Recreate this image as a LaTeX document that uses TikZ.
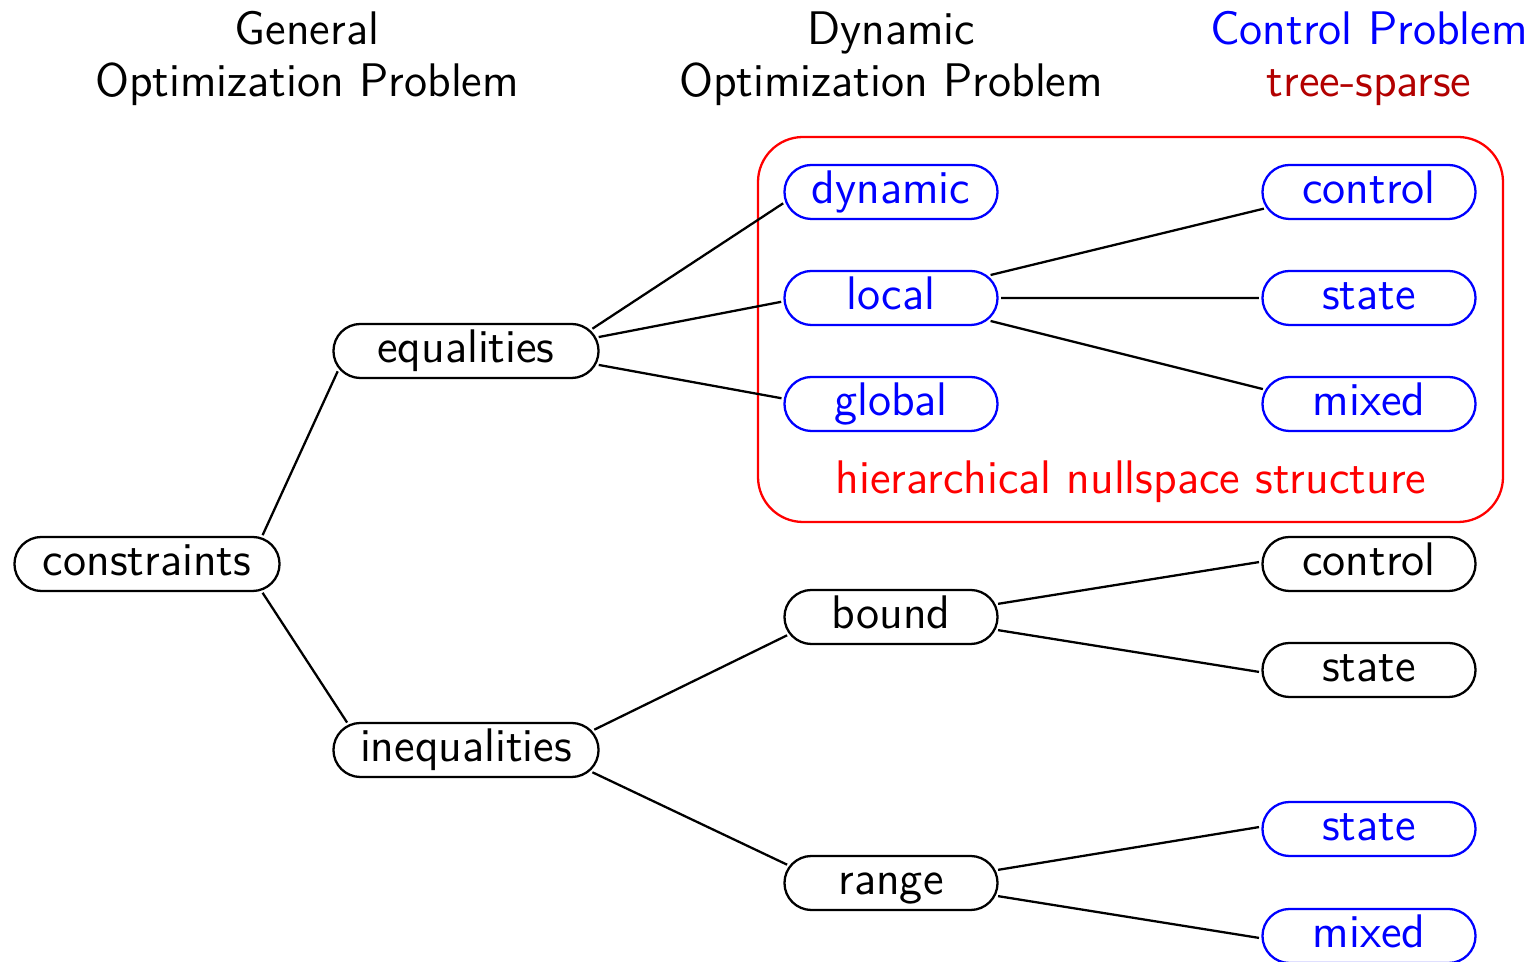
\documentclass[tikz,border=0pt]{standalone}
\usetikzlibrary{shapes.misc}
\definecolor{darkred}{RGB}{178,0,0}
\begin{document}
\begin{tikzpicture}[x=0.01cm,y=-0.01cm,
  font=\sffamily\fontsize{13.4}{16}\selectfont,
  box/.style={rounded rectangle, draw, line width=0.65pt, minimum height=0.54cm, inner xsep=2pt, inner ysep=0pt, text height=9.4pt, text depth=2.6pt, outer sep=1pt},
  wide/.style={box, minimum width=2.79cm},
  narrow/.style={box, minimum width=2.27cm},
  bl/.style={draw=blue, text=blue},
  link/.style={line width=0.65pt},
  head/.style={anchor=base, inner sep=0pt}]
\useasboundingbox (0,0) rectangle (1533,962);

% headers
\node[head] (h1a) at (307,45) {General};
\node[head] (h1b) at (307,97) {Optimization Problem};
\node[head] (h2a) at (891,45) {Dynamic};
\node[head] (h2b) at (891,97) {Optimization Problem};
\node[head, text=blue] (h3a) at (1369,45) {Control Problem};
\node[head, text=darkred] (h3b) at (1369,97) {tree-sparse};

% red region
\draw[red, line width=0.65pt, rounded corners=0.45cm] (758,137) rectangle (1503,522);
\node[text=red] (hns) at (1131,482) {hierarchical nullspace structure};

% nodes
\node[wide] (cons) at (147,564) {constraints};
\node[wide] (eq) at (466,351) {equalities};
\node[wide] (ineq) at (466,750) {inequalities};
\node[narrow,bl] (dyn) at (891,192) {dynamic};
\node[narrow,bl] (loc) at (891,298) {local};
\node[narrow,bl] (glob) at (891,404) {global};
\node[narrow] (bound) at (891,617) {bound};
\node[narrow] (range) at (891,883) {range};
\node[narrow,bl] (lc) at (1369,192) {control};
\node[narrow,bl] (ls) at (1369,298) {state};
\node[narrow,bl] (lm) at (1369,404) {mixed};
\node[narrow] (bc) at (1369,564) {control};
\node[narrow] (bs) at (1369,670) {state};
\node[narrow,bl] (rs) at (1369,829) {state};
\node[narrow,bl] (rm) at (1369,936) {mixed};

% connectors
\draw[link] (cons.14) -- (eq.189);
\draw[link] (cons.346) -- (ineq.167);
\draw[link] (eq.10) -- (dyn.186);
\draw[link] (eq.6) -- (loc.182.5);
\draw[link] (eq.354) -- (glob.177.5);
\draw[link] (loc.13) -- (lc.189);
\draw[link] (loc.0) -- (ls.180);
\draw[link] (loc.347) -- (lm.172);
\draw[link] (ineq.9.6) -- (bound.190);
\draw[link] (ineq.350.4) -- (range.170);
\draw[link] (bound.7) -- (bc.179);
\draw[link] (bound.353) -- (bs.181);
\draw[link] (range.7) -- (rs.179.5);
\draw[link] (range.353) -- (rm.181);
\end{tikzpicture}
\end{document}
